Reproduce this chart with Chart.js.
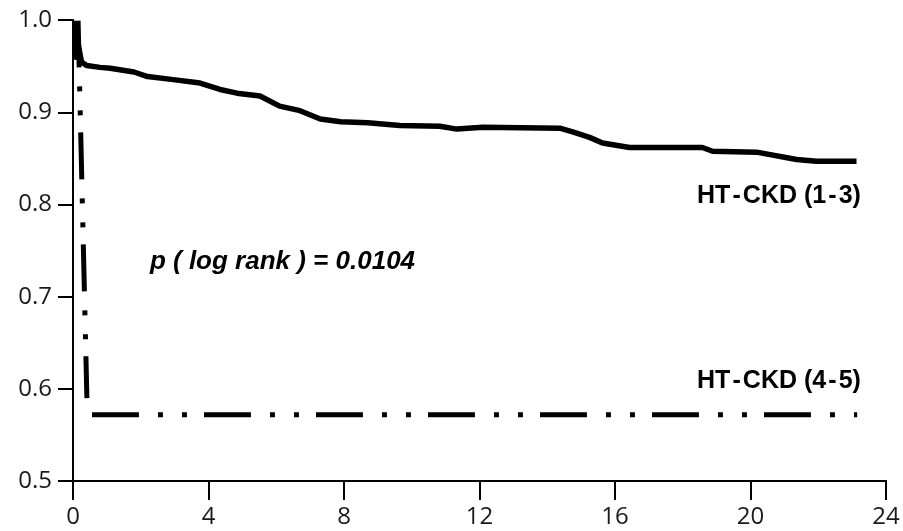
<!DOCTYPE html>
<html>
<head>
<meta charset="utf-8">
<script src="https://cdn.jsdelivr.net/npm/chart.js@4/dist/chart.umd.min.js"></script>
<style>
  html, body { margin: 0; padding: 0; background: #fff; }
  #wrap { width: 903px; height: 531px; }
</style>
</head>
<body>
<div id="wrap"><canvas id="km" width="903" height="531"></canvas></div>
<script>
// follow-up time (x) and cumulative survival (y)
const ckd13Time = [0, 0.08, 0.15, 0.25, 0.4, 0.8, 1.1, 1.8, 2.2, 2.9, 3.75, 4.34, 4.84, 5.52, 6.1, 6.7, 7.3, 7.9, 8.7, 9.65, 10.83, 11.33, 12.1, 14.37, 14.75, 15.25, 15.63, 16.43, 18.58, 18.88, 20.18, 21.36, 21.95, 23.13];
const ckd13Surv = [1.0, 0.96, 0.975, 0.955, 0.951, 0.949, 0.948, 0.944, 0.939, 0.936, 0.932, 0.925, 0.921, 0.918, 0.907, 0.902, 0.893, 0.890, 0.889, 0.886, 0.885, 0.882, 0.884, 0.883, 0.879, 0.873, 0.867, 0.862, 0.862, 0.858, 0.857, 0.849, 0.847, 0.847];

const ckd45DropTime = [0.15, 0.41];
const ckd45DropSurv = [1.0, 0.59];
const ckd45FlatTime = [0.56, 23.15];
const ckd45FlatSurv = [0.572, 0.572];

const xTicks = [0, 4, 8, 12, 16, 20, 24];
const yTicks = [0.5, 0.6, 0.7, 0.8, 0.9, 1.0];

const labels = [
  { text: 'HT\u200A-\u200ACKD (1\u200A-\u200A3)', x: 23.26, y: 0.8015, align: 'right', font: 'bold 25px "Liberation Sans", Arial, sans-serif' },
  { text: 'HT\u200A-\u200ACKD (4\u200A-\u200A5)', x: 23.26, y: 0.601, align: 'right', font: 'bold 25px "Liberation Sans", Arial, sans-serif' },
  { text: 'p ( log rank ) = 0.0104', x: 2.27, y: 0.730, align: 'left', font: 'italic bold 26px "Liberation Sans", Arial, sans-serif' }
];

const toPts = (xs, ys) => xs.map((x, i) => ({ x, y: ys[i] }));

const textPlugin = {
  id: 'kmText',
  afterDatasetsDraw(chart) {
    const ctx = chart.ctx;
    const xs = chart.scales.x, ys = chart.scales.y;
    ctx.save();
    ctx.fillStyle = '#000';
    ctx.textBaseline = 'alphabetic';
    labels.forEach((l) => {
      ctx.font = l.font;
      ctx.textAlign = l.align;
      ctx.fillText(l.text, xs.getPixelForValue(l.x), ys.getPixelForValue(l.y));
    });
    ctx.restore();
  }
};

const lineStyle = { borderColor: '#000', pointRadius: 0, tension: 0, fill: false };

new Chart(document.getElementById('km'), {
  type: 'line',
  data: {
    datasets: [
      { ...lineStyle, label: 'HT-CKD (1-3)', data: toPts(ckd13Time, ckd13Surv), borderWidth: 5.5, borderJoinStyle: 'round' },
      { ...lineStyle, label: 'HT-CKD (4-5)', data: toPts(ckd45DropTime, ckd45DropSurv), borderWidth: 5, borderDash: [47, 19, 5, 19, 5, 17], borderCapStyle: 'butt' },
      { ...lineStyle, label: 'HT-CKD (4-5) plateau', data: toPts(ckd45FlatTime, ckd45FlatSurv), borderWidth: 5, borderDash: [47, 19, 5, 19, 5, 17], borderCapStyle: 'butt' }
    ]
  },
  options: {
    responsive: false,
    devicePixelRatio: 1,
    animation: false,
    layout: { padding: { top: 20, right: 17, bottom: 0, left: 0 } },
    plugins: { legend: { display: false }, tooltip: { enabled: false } },
    scales: {
      x: {
        type: 'linear', min: 0, max: 24,
        afterFit: (s) => { s.height = 50; },
        afterBuildTicks: (s) => { s.ticks = xTicks.map((v) => ({ value: v })); },
        ticks: { color: '#1a1a1a', padding: 3, font: { family: '"Open Sans"', size: 24 } },
        grid: { drawOnChartArea: false, drawTicks: true, tickLength: 19, color: '#000', lineWidth: 2 },
        border: { display: true, color: '#000', width: 2 }
      },
      y: {
        type: 'linear', min: 0.5, max: 1.0,
        afterFit: (s) => { s.width = 73; },
        afterBuildTicks: (s) => { s.ticks = yTicks.map((v) => ({ value: v })); },
        ticks: { color: '#1a1a1a', padding: 6, font: { family: '"Open Sans"', size: 24 }, callback: (v) => v.toFixed(1) },
        grid: { drawOnChartArea: false, drawTicks: true, tickLength: 15, color: '#000', lineWidth: 2 },
        border: { display: true, color: '#000', width: 2 }
      }
    }
  },
  plugins: [textPlugin]
});
</script>
</body>
</html>
